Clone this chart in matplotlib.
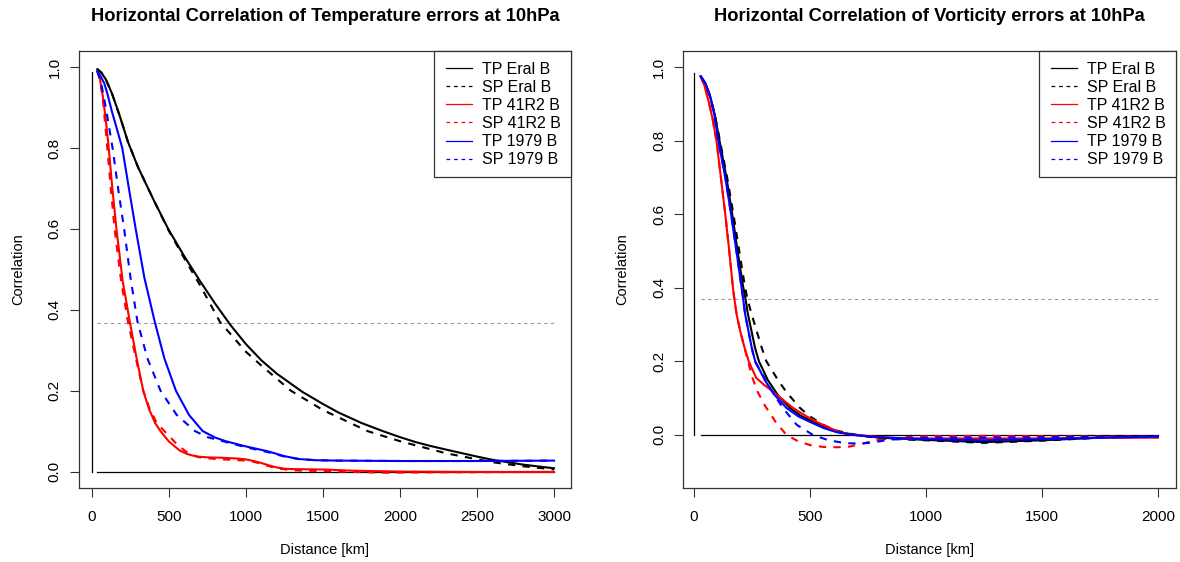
import matplotlib
matplotlib.use("Agg")
import matplotlib.pyplot as plt
from matplotlib.lines import Line2D
from matplotlib.patches import Rectangle

plt.rcParams['font.family'] = ['Liberation Sans', 'DejaVu Sans']

# ---------------- Left panel: Temperature ----------------
t_tp_eral_x = [35, 60, 90, 130, 180, 234, 300, 400, 495, 600, 700, 800, 900, 1000, 1100, 1200, 1366, 1500, 1600, 1750, 1888, 2000, 2100, 2200, 2336, 2500, 2600, 2800, 3000]
t_tp_eral_y = [0.995, 0.987, 0.97, 0.935, 0.88, 0.815, 0.752, 0.672, 0.60, 0.532, 0.472, 0.415, 0.362, 0.315, 0.275, 0.242, 0.197, 0.167, 0.146, 0.12, 0.10, 0.085, 0.073, 0.063, 0.051, 0.037, 0.029, 0.017, 0.008]

t_sp_eral_x = [35, 60, 90, 130, 180, 234, 300, 400, 495, 600, 700, 831, 1000, 1100, 1291, 1500, 1789, 2000, 2300, 2600, 2800, 3000]
t_sp_eral_y = [0.995, 0.987, 0.97, 0.935, 0.88, 0.815, 0.752, 0.672, 0.598, 0.527, 0.462, 0.37, 0.296, 0.262, 0.20, 0.152, 0.10, 0.075, 0.045, 0.023, 0.013, 0.005]

t_tp_41r2_x = [35, 50, 70, 90, 109, 130, 159, 200, 246, 290, 333, 370, 410, 445, 500, 570, 620, 680, 750, 850, 950, 1000, 1050, 1100, 1150, 1200, 1250, 1300, 1500, 1700, 2000, 2500, 3000]
t_tp_41r2_y = [0.99, 0.975, 0.93, 0.87, 0.80, 0.71, 0.60, 0.47, 0.37, 0.28, 0.20, 0.155, 0.12, 0.10, 0.074, 0.052, 0.043, 0.037, 0.035, 0.034, 0.032, 0.030, 0.026, 0.021, 0.015, 0.010, 0.007, 0.006, 0.005, 0.002, 0.0, -0.001, -0.001]

t_sp_41r2_x = [35, 50, 70, 100, 120, 147, 190, 234, 285, 333, 370, 420, 470, 540, 607, 660, 700, 800, 900, 1000, 1050, 1100, 1150, 1200, 1300, 1500, 1900, 2200, 3000]
t_sp_41r2_y = [0.99, 0.972, 0.925, 0.80, 0.71, 0.60, 0.47, 0.37, 0.28, 0.20, 0.16, 0.12, 0.10, 0.072, 0.05, 0.04, 0.035, 0.031, 0.029, 0.027, 0.024, 0.019, 0.013, 0.008, 0.003, 0.001, -0.003, -0.002, -0.001]

t_tp_1979_x = [35, 60, 80, 100, 130, 160, 197, 240, 284, 340, 408, 470, 545, 630, 719, 800, 868, 1000, 1142, 1250, 1341, 1450, 1600, 2000, 2500, 3000]
t_tp_1979_y = [0.99, 0.975, 0.96, 0.935, 0.89, 0.85, 0.80, 0.70, 0.60, 0.48, 0.37, 0.28, 0.20, 0.14, 0.10, 0.084, 0.075, 0.062, 0.05, 0.038, 0.031, 0.028, 0.027, 0.026, 0.026, 0.027]

t_sp_1979_x = [35, 60, 90, 134, 170, 209, 250, 296, 360, 445, 550, 669, 750, 800, 900, 1000, 1142, 1250, 1341, 1450, 1600, 2000, 2500, 3000]
t_sp_1979_y = [0.99, 0.96, 0.90, 0.80, 0.70, 0.60, 0.48, 0.37, 0.28, 0.20, 0.14, 0.10, 0.085, 0.08, 0.07, 0.06, 0.048, 0.037, 0.031, 0.028, 0.027, 0.026, 0.026, 0.027]

# ---------------- Right panel: Vorticity ----------------
v_tp_eral_x = [29, 50, 70, 90, 110, 140, 165, 188, 210, 222, 232, 263, 280, 319, 365, 414, 460, 514, 570, 629, 690, 800, 1000, 1250, 1500, 1750, 2000]
v_tp_eral_y = [0.975, 0.955, 0.92, 0.87, 0.80, 0.70, 0.60, 0.50, 0.41, 0.37, 0.33, 0.237, 0.20, 0.148, 0.105, 0.073, 0.052, 0.035, 0.018, 0.007, 0.0, -0.008, -0.014, -0.02, -0.015, -0.008, -0.005]

v_sp_eral_x = [29, 50, 70, 90, 112, 143, 170, 195, 218, 230, 249, 292, 312, 363, 400, 457, 500, 557, 610, 672, 720, 800, 1000, 1250, 1500, 1750, 2000]
v_sp_eral_y = [0.975, 0.955, 0.92, 0.87, 0.80, 0.70, 0.60, 0.50, 0.41, 0.37, 0.327, 0.237, 0.20, 0.148, 0.115, 0.073, 0.05, 0.027, 0.012, 0.003, -0.002, -0.01, -0.015, -0.022, -0.016, -0.008, -0.005]

v_tp_41r2_x = [29, 45, 62, 80, 97, 116, 135, 152, 168, 174, 184, 200, 218, 236, 268, 300, 335, 380, 427, 480, 529, 580, 629, 685, 800, 900, 1200, 1500, 1750, 2000]
v_tp_41r2_y = [0.975, 0.95, 0.91, 0.86, 0.80, 0.70, 0.60, 0.50, 0.40, 0.37, 0.327, 0.28, 0.237, 0.20, 0.155, 0.137, 0.12, 0.097, 0.073, 0.052, 0.035, 0.02, 0.007, 0.0, -0.006, -0.01, -0.01, -0.01, -0.008, -0.008]

v_sp_41r2_x = [29, 45, 62, 80, 97, 116, 135, 152, 168, 174, 184, 200, 218, 235, 252, 272, 303, 352, 398, 450, 500, 556, 620, 672, 720, 787, 900, 1000, 1250, 1500, 2000]
v_sp_41r2_y = [0.975, 0.95, 0.91, 0.86, 0.80, 0.70, 0.60, 0.50, 0.40, 0.37, 0.327, 0.28, 0.237, 0.195, 0.155, 0.12, 0.082, 0.035, 0.0, -0.018, -0.028, -0.033, -0.034, -0.032, -0.025, -0.015, -0.007, -0.004, -0.003, -0.004, -0.005]

v_tp_1979_x = [29, 50, 70, 88, 105, 135, 160, 183, 203, 212, 220, 249, 264, 306, 345, 399, 450, 500, 560, 615, 680, 800, 1000, 1250, 1500, 1750, 2000]
v_tp_1979_y = [0.975, 0.955, 0.92, 0.87, 0.80, 0.70, 0.60, 0.50, 0.41, 0.37, 0.33, 0.237, 0.20, 0.148, 0.11, 0.073, 0.05, 0.035, 0.018, 0.007, 0.0, -0.007, -0.012, -0.015, -0.012, -0.008, -0.005]

v_sp_1979_x = [29, 50, 70, 88, 105, 135, 160, 183, 203, 212, 220, 249, 262, 310, 345, 383, 443, 512, 580, 655, 720, 780, 845, 1000, 1250, 1500, 2000]
v_sp_1979_y = [0.975, 0.955, 0.92, 0.87, 0.80, 0.70, 0.60, 0.50, 0.41, 0.37, 0.33, 0.237, 0.20, 0.148, 0.11, 0.073, 0.027, 0.0, -0.015, -0.023, -0.024, -0.02, -0.013, -0.008, -0.008, -0.007, -0.005]

labels = ["TP Eral B", "SP Eral B", "TP 41R2 B", "SP 41R2 B", "TP 1979 B", "SP 1979 B"]
colors = ["black", "black", "#ff0000", "#ff0000", "#0000ff", "#0000ff"]
solid = [True, False, True, False, True, False]

temp_series = [(t_tp_eral_x, t_tp_eral_y), (t_sp_eral_x, t_sp_eral_y),
               (t_tp_41r2_x, t_tp_41r2_y), (t_sp_41r2_x, t_sp_41r2_y),
               (t_tp_1979_x, t_tp_1979_y), (t_sp_1979_x, t_sp_1979_y)]
vort_series = [(v_tp_eral_x, v_tp_eral_y), (v_sp_eral_x, v_sp_eral_y),
               (v_tp_41r2_x, v_tp_41r2_y), (v_sp_41r2_x, v_sp_41r2_y),
               (v_tp_1979_x, v_tp_1979_y), (v_sp_1979_x, v_sp_1979_y)]

efold = 0.368

W, H = 1180, 562
fig = plt.figure(figsize=(W / 100, H / 100), dpi=100)
ax1 = fig.add_axes([79 / W, 1 - 487.7 / H, (571 - 79) / W, (487.7 - 51) / H])
ax2 = fig.add_axes([683.3 / W, 1 - 487.7 / H, (1176 - 683.3) / W, (487.7 - 51) / H])


def draw(ax, series, xmax, vtop, x0, xlim, ylim, xticks, yticks, title):
    ax.plot([0, 0], [0, vtop], color="black", lw=0.9)
    ax.plot([x0, xmax], [0, 0], color="black", lw=0.9)
    ax.plot([x0, xmax], [efold, efold], color="#999999", lw=0.8, dashes=(3, 3))
    for (xs, ys), c, s in zip(series, colors, solid):
        if s:
            ax.plot(xs, ys, color=c, lw=1.5, solid_joinstyle='round')
        else:
            ax.plot(xs, ys, color=c, lw=1.5, dashes=(3.5, 3.5))
    ax.set_xlim(*xlim)
    ax.set_ylim(*ylim)
    ax.set_xticks(xticks)
    ax.set_yticks(yticks)
    ax.set_xticklabels([str(v) for v in xticks])
    ax.set_yticklabels(["%.1f" % v for v in yticks], rotation=90, va='center')
    ax.tick_params(direction='out', length=6.5, width=0.8, labelsize=11,
                   color='#333333')
    ax.tick_params(axis='x', pad=9.5)
    ax.tick_params(axis='y', pad=6)
    for sp in ax.spines.values():
        sp.set_color('#333333')
        sp.set_linewidth(0.9)
    ax.set_xlabel("Distance [km]", fontsize=10.5, labelpad=14)
    ax.set_ylabel("Correlation", fontsize=10.5, labelpad=16)
    ax.set_title(title, fontsize=13.2, fontweight='bold', pad=21.5)

    # legend frame (in axes coords)
    bb = ax.get_position()
    axw = bb.width * W
    axh = bb.height * H
    fw = 137.0 / axw
    fh = 126.0 / axh
    ax.add_patch(Rectangle((1 - fw, 1 - fh), fw, fh, transform=ax.transAxes,
                           facecolor='white', edgecolor='#333333', lw=0.9,
                           zorder=5, clip_on=False))
    handles = []
    for c, s, l in zip(colors, solid, labels):
        if s:
            handles.append(Line2D([0], [0], color=c, lw=0.9))
        else:
            handles.append(Line2D([0], [0], color=c, lw=0.9, dashes=(3, 3)))
    leg = ax.legend(handles, labels, loc='upper left', fontsize=11.5,
                    frameon=False, borderaxespad=0, borderpad=0,
                    bbox_to_anchor=(1 - fw + 12.0 / axw, 1 - 10.5 / axh),
                    handlelength=1.65, handletextpad=0.6, labelspacing=0.2)
    leg.set_zorder(6)


draw(ax1, temp_series, 3000, 0.988, 35, (-84, 3110), (-0.04, 1.04),
     [0, 500, 1000, 1500, 2000, 2500, 3000], [0.0, 0.2, 0.4, 0.6, 0.8, 1.0],
     "Horizontal Correlation of Temperature errors at 10hPa")
draw(ax2, vort_series, 2000, 0.985, 29, (-46, 2078), (-0.144, 1.044),
     [0, 500, 1000, 1500, 2000], [0.0, 0.2, 0.4, 0.6, 0.8, 1.0],
     "Horizontal Correlation of Vorticity errors at 10hPa")

fig.savefig("out.png", dpi=100)
